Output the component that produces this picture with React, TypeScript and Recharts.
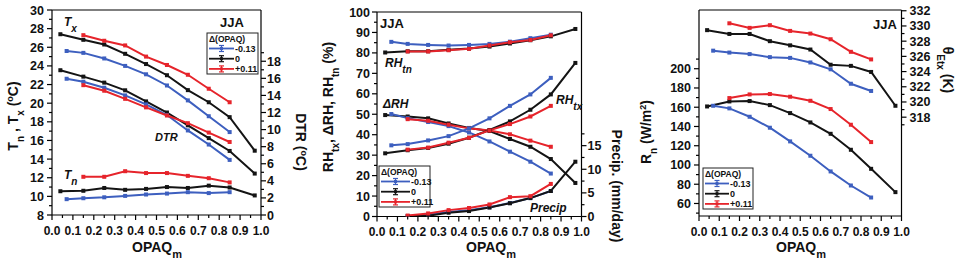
import React from "react";
import { LineChart, Line, XAxis, YAxis, ReferenceLine } from "recharts";

// x positions (OPAQ_m bin centres) for each run
const xBlack = [0.04, 0.15, 0.25, 0.35, 0.45, 0.55, 0.65, 0.75, 0.85, 0.97];
const xBlue = [0.07, 0.15, 0.25, 0.35, 0.45, 0.55, 0.65, 0.75, 0.85];
const xRed = [0.15, 0.25, 0.35, 0.45, 0.55, 0.65, 0.75, 0.85];

// panel 1: Tx, Tn (left axis), DTR (right axis)
const txBlack = [27.4, 26.8, 26.3, 25.3, 24.2, 23.0, 21.4, 20.1, 18.5, 14.9];
const txBlue = [25.6, 25.4, 24.8, 24.0, 23.1, 21.9, 20.3, 18.6, 16.9];
const txRed = [27.3, 26.7, 26.2, 25.0, 24.1, 23.05, 21.55, 20.1];
const dtrBlack = [16.95, 16.2, 15.5, 14.6, 13.3, 12.0, 10.5, 9.0, 7.5, 4.85];
const dtrBlue = [15.95, 15.6, 14.9, 14.0, 12.95, 11.7, 9.9, 8.25, 6.45];
const dtrRed = [15.2, 14.55, 13.6, 12.6, 11.65, 10.75, 9.65, 8.55];
const tnBlack = [10.55, 10.6, 10.9, 10.7, 10.8, 11.0, 10.9, 11.15, 10.95, 10.1];
const tnBlue = [9.7, 9.8, 9.9, 10.05, 10.2, 10.3, 10.45, 10.35, 10.45];
const tnRed = [12.1, 12.1, 12.7, 12.5, 12.5, 12.2, 11.95, 11.5];

// panel 2: RH (left axis), precip (right axis)
const rhtnBlack = [80.2, 80.8, 80.8, 81.5, 82.1, 83.1, 84.6, 86.2, 88.1, 91.7];
const rhtnBlue = [85.4, 84.4, 83.9, 83.6, 83.9, 84.4, 85.5, 87.2, 88.9];
const rhtnRed = [80.7, 80.7, 81.3, 82.0, 83.6, 85.2, 86.3, 88.6];
const rhtxBlack = [30.9, 32.4, 33.5, 35.6, 38.5, 42.3, 46.5, 52.2, 59.7, 75.1];
const rhtxBlue = [34.8, 35.4, 37.2, 39.3, 43.1, 48.0, 54.1, 59.7, 67.8];
const rhtxRed = [32.7, 33.7, 36.1, 38.5, 42.1, 45.2, 48.9, 54.1];
const drhBlack = [49.6, 48.9, 48.0, 45.5, 43.3, 41.8, 37.9, 34.1, 28.1, 16.4];
const drhBlue = [50.1, 48.1, 46.2, 44.2, 41.1, 36.7, 31.7, 26.8, 21.0];
const drhRed = [47.6, 46.8, 44.9, 43.1, 42.1, 40.2, 37.1, 34.1];
const prBlack = [null, 0.05, 0.15, 0.8, 1.15, 1.9, 2.8, 3.9, 5.4, 11.6];
const prBlue = [null, 0.1, 0.35, 0.95, 1.3, 1.95, 2.85, 3.9, 5.4];
const prRed = [0.2, 0.65, 1.35, 1.8, 2.55, 4.1, 4.3, 6.9];

// panel 3: Rn (left axis), theta_Etx (right axis)
const thBlack = [329.45, 328.95, 328.95, 328.0, 327.45, 326.9, 324.9, 324.75, 323.95, 319.5];
const thBlue = [326.75, 326.5, 326.3, 325.9, 325.8, 325.2, 324.3, 322.4, 321.45];
const thRed = [330.35, 329.75, 330.1, 329.35, 329.0, 328.25, 326.6, 325.6];
const rnBlack = [160.8, 166.0, 166.4, 162.2, 153.9, 144.2, 132.4, 115.8, 96.0, 71.8];
const rnBlue = [161.5, 158.8, 150.1, 138.7, 124.5, 109.6, 93.3, 78.7, 66.2];
const rnRed = [169.5, 173.3, 173.7, 170.9, 166.7, 158.1, 141.8, 123.8];

const legendLabels = ["-0.13", "0", "+0.11"];

const BLUE = "#3d5fbf";
const BLACK = "#141414";
const RED = "#e6242b";
const FONT = "'Liberation Sans', Arial, sans-serif";

const pts = (xs: number[], ys: (number | null)[]) => xs.map((x, i) => ({ x, y: ys[i] }));
const range = (a: number, b: number, s: number) => {
  const out: number[] = [];
  for (let v = a; v <= b + 1e-9; v += s) out.push(Math.round(v * 1000) / 1000);
  return out;
};
const onStep = (v: number, s: number) => Math.abs(v / s - Math.round(v / s)) < 1e-6;

const xTicks = range(0, 1, 0.05);

type Side = "left" | "right" | "bottom";
const makeTick = (side: Side, step: number, fmt: (v: number) => string, gap = 3) => (p: any) => {
  const { x, y, payload } = p;
  const v = payload.value;
  const major = onStep(v, step);
  const len = major ? 5 : 3;
  const txt = { fontFamily: FONT, fontWeight: 700, fill: "#111" } as const;
  if (side === "left")
    return (
      <g key={`t${v}`}>
        <line x1={x} y1={y} x2={x - len} y2={y} stroke="#000" strokeWidth={1.2} />
        {major && <text x={x - 5 - gap} y={y} dy="0.36em" textAnchor="end" fontSize={12.5} {...txt}>{fmt(v)}</text>}
      </g>
    );
  if (side === "right")
    return (
      <g key={`t${v}`}>
        <line x1={x} y1={y} x2={x + len} y2={y} stroke="#000" strokeWidth={1.2} />
        {major && <text x={x + 5 + gap} y={y} dy="0.36em" textAnchor="start" fontSize={12.5} {...txt}>{fmt(v)}</text>}
      </g>
    );
  return (
    <g key={`t${v}`}>
      <line x1={x} y1={y} x2={x} y2={y + len} stroke="#000" strokeWidth={1.2} />
      {major && <text x={x} y={y + 19.5} textAnchor="middle" fontSize={12} {...txt}>{fmt(v)}</text>}
    </g>
  );
};

const square = (color: string) => (p: any) => {
  if (p.cx == null || p.cy == null || p.value == null) return <g key={`d${p.index}`} />;
  return <rect key={`d${p.index}`} x={p.cx - 2} y={p.cy - 2} width={4} height={4} fill={color} />;
};

type Series = { data: { x: number; y: number | null }[]; color: string; axis: "l" | "r" };

type PanelProps = {
  left: number;
  width: number;
  top: number;
  bottom: number;
  yLeftW: number;
  yRightW: number;
  lDomain: [number, number];
  lTicks: number[];
  lStep: number;
  lFmt: (v: number) => string;
  lGap?: number;
  rDomain: [number, number];
  rTicks: number[];
  rStep: number;
  rFmt: (v: number) => string;
  rGap?: number;
  series: Series[];
};

const Panel = (p: PanelProps) => (
  <div style={{ position: "absolute", left: p.left, top: 0 }}>
    <LineChart width={p.width} height={266} margin={{ top: p.top, right: 0, bottom: 0, left: 0 }}>
      <XAxis
        dataKey="x"
        type="number"
        domain={[0, 1]}
        ticks={xTicks}
        interval={0}
        height={266 - p.bottom}
        axisLine={{ stroke: "#000", strokeWidth: 1.2 }}
        tickLine={false}
        tickSize={0}
        tickMargin={0}
        tick={makeTick("bottom", 0.1, (v) => v.toFixed(1))}
      />
      <YAxis
        yAxisId="l"
        orientation="left"
        type="number"
        domain={p.lDomain}
        allowDataOverflow
        ticks={p.lTicks}
        interval={0}
        width={p.yLeftW}
        axisLine={{ stroke: "#000", strokeWidth: 1.2 }}
        tickLine={false}
        tickSize={0}
        tickMargin={0}
        tick={makeTick("left", p.lStep, p.lFmt, p.lGap)}
      />
      <YAxis
        yAxisId="r"
        orientation="right"
        type="number"
        domain={p.rDomain}
        allowDataOverflow
        ticks={p.rTicks}
        interval={0}
        width={p.yRightW}
        axisLine={{ stroke: "#000", strokeWidth: 1.2 }}
        tickLine={false}
        tickSize={0}
        tickMargin={0}
        tick={makeTick("right", p.rStep, p.rFmt, p.rGap)}
      />
      <ReferenceLine yAxisId="l" y={p.lDomain[1]} stroke="#000" strokeWidth={1.2} />
      {p.series.map((s, i) => (
        <Line
          key={i}
          data={s.data}
          dataKey="y"
          yAxisId={s.axis}
          stroke={s.color}
          strokeWidth={2}
          dot={square(s.color)}
          activeDot={false}
          isAnimationActive={false}
        />
      ))}
    </LineChart>
  </div>
);

const Sub = ({ children, size = 10 }: { children: React.ReactNode; size?: number }) => (
  <tspan baselineShift="sub" fontSize={size}>{children}</tspan>
);
const Sup = ({ children, size = 9 }: { children: React.ReactNode; size?: number }) => (
  <tspan baselineShift="super" fontSize={size}>{children}</tspan>
);

const Legend = ({ x, y, w, line }: { x: number; y: number; w: number; line: number }) => {
  const colors = [BLUE, BLACK, RED];
  return (
    <g fontFamily={FONT} fontWeight={700}>
      <rect x={x} y={y} width={w} height={41} fill="#fff" stroke="#222" strokeWidth={1} />
      <text x={x + 2} y={y + 9} fontSize={8.5} fill="#111">Δ(OPAQ)</text>
      {colors.map((c, i) => {
        const ry = y + 15.5 + i * 10.2;
        const mx = x + 2 + line / 2;
        return (
          <g key={i}>
            <line x1={x + 2} y1={ry} x2={x + 2 + line} y2={ry} stroke={c} strokeWidth={1.8} />
            <line x1={mx} y1={ry - 3} x2={mx} y2={ry + 3} stroke={c} strokeWidth={1.2} />
            <line x1={mx - 2.5} y1={ry - 3} x2={mx + 2.5} y2={ry - 3} stroke={c} strokeWidth={1.2} />
            <line x1={mx - 2.5} y1={ry + 3} x2={mx + 2.5} y2={ry + 3} stroke={c} strokeWidth={1.2} />
            <rect x={mx - 1.5} y={ry - 1.5} width={3} height={3} fill={c} />
            <text x={x + 3 + line} y={ry} dy="0.36em" fontSize={9} fill="#111">{legendLabels[i]}</text>
          </g>
        );
      })}
    </g>
  );
};

const Overlay = () => {
  const title = { fontFamily: FONT, fontWeight: 700, fontSize: 14, fill: "#111" } as const;
  const note = { fontFamily: FONT, fontWeight: 700, fontSize: 12, fill: "#111" } as const;
  const it = { ...note, fontStyle: "italic" } as const;
  return (
    <svg
      width={964}
      height={266}
      style={{ position: "absolute", left: 0, top: 0, pointerEvents: "none" }}
    >
      {/* panel 1 */}
      <text {...title} textAnchor="middle" transform="translate(18,116) rotate(-90)">
        T<Sub>n</Sub> , T<Sub>x</Sub> (<Sup>o</Sup>C)
      </text>
      <text {...title} textAnchor="middle" transform="translate(296,142) rotate(90)">
        DTR (<Sup>o</Sup>C)
      </text>
      <text {...title} textAnchor="middle" x={157} y={252}>
        OPAQ<Sub size={11}>m</Sub>
      </text>
      <text {...it} x={64} y={26}>T<Sub size={10}>x</Sub></text>
      <text {...it} x={64} y={179}>T<Sub size={10}>n</Sub></text>
      <text {...it} fontSize={11} x={155} y={141}>DTR</text>
      <text {...note} fontSize={13} x={220} y={27}>JJA</text>
      <Legend x={207} y={33} w={51} line={25} />

      {/* panel 2 */}
      <text {...title} textAnchor="middle" transform="translate(333,107) rotate(-90)">
        RH<Sub>tx</Sub>, ΔRH, RH<Sub>tn</Sub> (%)
      </text>
      <text {...title} textAnchor="middle" transform="translate(612,186) rotate(90)">
        Precip. (mm/day)
      </text>
      <text {...title} textAnchor="middle" x={491} y={252}>
        OPAQ<Sub size={11}>m</Sub>
      </text>
      <text {...note} fontSize={13} x={380} y={28}>JJA</text>
      <text {...it} x={385} y={67}>RH<Sub size={10}>tn</Sub></text>
      <text {...it} x={383} y={108}>ΔRH</text>
      <text {...it} x={556} y={104}>RH<Sub size={10}>tx</Sub></text>
      <text {...it} x={530} y={212}>Precip</text>
      <Legend x={379} y={166} w={51} line={29} />

      {/* panel 3 */}
      <text {...title} textAnchor="middle" transform="translate(651,132) rotate(-90)">
        R<Sub>n</Sub> (W/m<Sup>2</Sup>)
      </text>
      <text {...title} textAnchor="middle" transform="translate(943,70) rotate(90)">
        θ<Sub>Etx</Sub> (K)
      </text>
      <text {...title} textAnchor="middle" x={801} y={252}>
        OPAQ<Sub size={11}>m</Sub>
      </text>
      <text {...note} fontSize={13} x={873} y={29}>JJA</text>
      <Legend x={703} y={168} w={50} line={24} />
    </svg>
  );
};

export default function App() {
  const s = (xs: number[], ys: (number | null)[], color: string, axis: "l" | "r"): Series => ({
    data: pts(xs, ys),
    color,
    axis,
  });
  return (
    <div style={{ position: "absolute", left: 0, top: 0, width: 964, height: 266, background: "#fff" }}>
      <Panel
        left={0}
        width={320}
        top={10}
        bottom={215}
        yLeftW={52}
        yRightW={59}
        lDomain={[8, 30]}
        lTicks={range(8, 30, 1)}
        lStep={2}
        lFmt={(v) => String(v)}
        lGap={3}
        rDomain={[0, 24]}
        rTicks={range(0, 19, 1)}
        rStep={2}
        rFmt={(v) => String(v)}
        rGap={1}
        series={[
          s(xBlack, dtrBlack, BLACK, "r"),
          s(xBlue, dtrBlue, BLUE, "r"),
          s(xRed, dtrRed, RED, "r"),
          s(xBlack, txBlack, BLACK, "l"),
          s(xBlue, txBlue, BLUE, "l"),
          s(xRed, txRed, RED, "l"),
          s(xBlack, tnBlack, BLACK, "l"),
          s(xBlue, tnBlue, BLUE, "l"),
          s(xRed, tnRed, RED, "l"),
        ]}
      />
      <Panel
        left={320}
        width={320}
        top={12}
        bottom={216.5}
        yLeftW={57}
        yRightW={58.5}
        lDomain={[0, 100]}
        lTicks={range(0, 100, 5)}
        lStep={10}
        lFmt={(v) => String(v)}
        lGap={2}
        rDomain={[0, 43.3]}
        rTicks={range(0, 17.5, 2.5)}
        rStep={5}
        rFmt={(v) => String(v)}
        rGap={1}
        series={[
          s(xBlack, rhtnBlack, BLACK, "l"),
          s(xBlue, rhtnBlue, BLUE, "l"),
          s(xRed, rhtnRed, RED, "l"),
          s(xBlack, drhBlack, BLACK, "l"),
          s(xBlue, drhBlue, BLUE, "l"),
          s(xRed, drhRed, RED, "l"),
          s(xBlack, rhtxBlack, BLACK, "l"),
          s(xBlue, rhtxBlue, BLUE, "l"),
          s(xRed, rhtxRed, RED, "l"),
          s(xBlue, prBlue, BLUE, "r"),
          s(xBlack, prBlack, BLACK, "r"),
          s(xRed, prRed, RED, "r"),
        ]}
      />
      <Panel
        left={640}
        width={324}
        top={10}
        bottom={216}
        yLeftW={59}
        yRightW={62.5}
        lDomain={[47, 261]}
        lTicks={range(50, 210, 10)}
        lStep={20}
        lFmt={(v) => String(v)}
        lGap={3}
        rDomain={[305, 332.1]}
        rTicks={range(317, 332, 1)}
        rStep={2}
        rFmt={(v) => String(v)}
        rGap={3}
        series={[
          s(xBlack, thBlack, BLACK, "r"),
          s(xBlue, thBlue, BLUE, "r"),
          s(xRed, thRed, RED, "r"),
          s(xBlack, rnBlack, BLACK, "l"),
          s(xBlue, rnBlue, BLUE, "l"),
          s(xRed, rnRed, RED, "l"),
        ]}
      />
      <Overlay />
    </div>
  );
}
